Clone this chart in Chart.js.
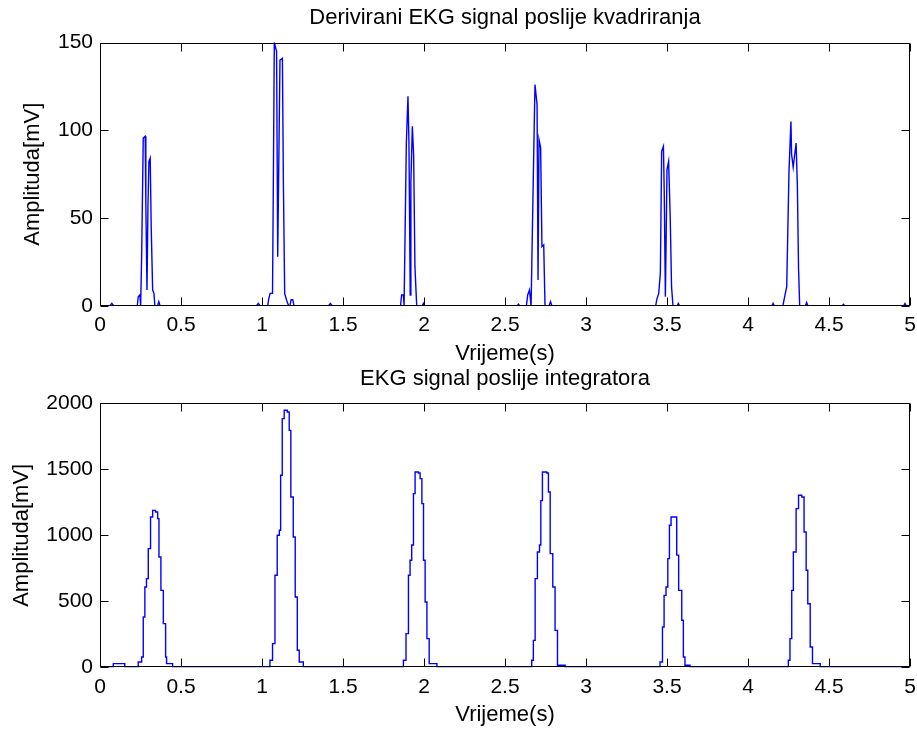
<!DOCTYPE html>
<html>
<head>
<meta charset="utf-8">
<script src="https://cdn.jsdelivr.net/npm/chart.js@4.4.1/dist/chart.umd.min.js"></script>
<style>
  html, body { margin: 0; padding: 0; background: #ffffff; }
  #wrap { position: relative; width: 917px; height: 731px; }
  canvas { position: absolute; left: 0; top: 0; }
</style>
</head>
<body>
<div id="wrap">
  <canvas id="derivChart" width="917" height="731"></canvas>
  <canvas id="integChart" width="917" height="731"></canvas>
</div>
<script>
// Squared derivative of the ECG signal: time (s) and amplitude (mV)
const derivTime = [
  0, 0.06, 0.073, 0.086,
  0.23, 0.236, 0.246, 0.251, 0.257, 0.267, 0.279, 0.283, 0.29, 0.296, 0.302, 0.31, 0.316, 0.325, 0.333, 0.339,
  0.355, 0.363, 0.371,
  0.965, 0.977, 0.99,
  1.035, 1.041, 1.05, 1.065, 1.07, 1.076, 1.09, 1.097, 1.111, 1.126, 1.132, 1.14, 1.153, 1.165,
  1.172, 1.18, 1.19, 1.198,
  1.41, 1.422, 1.434,
  1.855, 1.862, 1.873, 1.877, 1.891, 1.901, 1.907, 1.915, 1.919, 1.928, 1.936, 1.944, 1.955,
  1.988, 1.996, 2.004,
  2.575, 2.583, 2.591,
  2.632, 2.64, 2.651, 2.661, 2.675, 2.685, 2.698, 2.704, 2.71, 2.72, 2.728, 2.739, 2.747,
  2.772, 2.781, 2.79,
  3.43, 3.437, 3.449, 3.459, 3.467, 3.478, 3.483, 3.49, 3.5, 3.51, 3.52, 3.528, 3.537,
  3.562, 3.57, 3.578,
  4.147, 4.155, 4.163,
  4.215, 4.223, 4.239, 4.253, 4.265, 4.269, 4.279, 4.297, 4.305, 4.312, 4.319,
  4.354, 4.362, 4.37,
  4.58, 4.589, 4.598,
  4.96, 4.969, 4.978, 5
];
const derivAmp = [
  0, 0, 1.5, 0,
  0, 5.3, 6.3, 0.5, 28, 95.6, 96.6, 57.6, 9.1, 56.6, 82.3, 84.2, 45.2, 9.1, 7.2, 0,
  0, 2.5, 0,
  0, 1.5, 0,
  0, 3.8, 7.2, 7.2, 70, 150, 145, 28, 140, 141, 70, 7, 3, 0,
  0, 3.6, 3.6, 0,
  0, 1.5, 0,
  0, 6.3, 6.3, 0, 92.8, 119.4, 93.7, 6.3, 70, 102.3, 86.2, 22.4, 0,
  0, 1.5, 0,
  0, 1, 0,
  0, 6.3, 9.1, 0, 74.7, 126, 114.7, 14.8, 94.7, 90, 33.8, 34.8, 0,
  0, 2.5, 0,
  0, 3.8, 7.2, 18.6, 88, 90.9, 64.3, 5.3, 77.6, 82.3, 50, 11, 0,
  0, 1.5, 0,
  0, 1.5, 0,
  0, 3.8, 11, 76.6, 105, 86.5, 79, 92.8, 67.3, 21.5, 0,
  0, 2, 0,
  0, 1, 0,
  0, 1.5, 0, 0
];

// Integrator output: time (s) and amplitude (mV)
const integTime = [
  0, 0.075, 0.082, 0.143, 0.153,
  0.226, 0.236, 0.257, 0.267, 0.277, 0.287, 0.298, 0.312, 0.325, 0.343, 0.356, 0.364, 0.376, 0.391, 0.405, 0.411, 0.441, 0.448,
  1.028, 1.049, 1.065, 1.08, 1.094, 1.107, 1.115, 1.125, 1.137, 1.156, 1.168, 1.178, 1.193, 1.205, 1.218, 1.23, 1.255,
  1.852, 1.873, 1.889, 1.904, 1.914, 1.924, 1.935, 1.945, 1.966, 1.976, 1.987, 1.997, 2.007, 2.018, 2.032, 2.08,
  2.644, 2.665, 2.675, 2.686, 2.7, 2.713, 2.721, 2.731, 2.758, 2.768, 2.779, 2.795, 2.809, 2.824, 2.871,
  3.437, 3.457, 3.472, 3.482, 3.494, 3.505, 3.515, 3.525, 3.552, 3.56, 3.572, 3.591, 3.601, 3.611, 3.642,
  4.218, 4.249, 4.259, 4.27, 4.28, 4.297, 4.312, 4.332, 4.346, 4.359, 4.369, 4.384, 4.398, 4.446, 5
];
const integAmp = [
  0, 0, 28, 28, 0,
  0, 40, 78, 381, 608, 672, 899, 1139, 1189, 1177, 1126, 836, 583, 331, 78, 28, 28, 0,
  0, 53, 179, 697, 1000, 1038, 1455, 1884, 1947, 1934, 1795, 1290, 987, 533, 129, 40, 0,
  0, 53, 255, 697, 811, 926, 1316, 1480, 1472, 1429, 1240, 811, 495, 217, 28, 0,
  0, 53, 204, 672, 874, 926, 1263, 1480, 1472, 1328, 861, 608, 280, 15, 0,
  0, 40, 305, 545, 608, 823, 1076, 1139, 1139, 850, 583, 356, 78, 15, 0,
  0, 53, 217, 583, 874, 1202, 1303, 1290, 1025, 735, 482, 154, 28, 0, 0
];

// Axis ranges and tick steps
const timeRange = [0, 5];
const timeStep = 0.5;
const derivRange = [0, 150];
const derivStep = 50;
const integRange = [0, 2000];
const integStep = 500;

const titleTop = 'Derivirani EKG signal poslije kvadriranja';
const titleBottom = 'EKG signal poslije integratora';
const xLabel = 'Vrijeme(s)';
const yLabel = 'Amplituda[mV]';

const FONT = "'Liberation Sans', Arial, Helvetica, sans-serif";
const LINE_BLUE = '#0000ff';
const TICK_LEN = 8;

// Closed black box with inward tick marks on all four sides
const boxAxes = {
  id: 'boxAxes',
  afterDatasetsDraw(chart) {
    const { ctx, chartArea: a, scales: { x, y } } = chart;
    const L = Math.round(a.left) + 0.5, R = Math.round(a.right) - 0.5;
    const T = Math.round(a.top) + 0.5, B = Math.round(a.bottom) - 0.5;
    ctx.save();
    ctx.strokeStyle = '#000000';
    ctx.lineWidth = 1;
    ctx.beginPath();
    x.ticks.forEach(t => {
      const px = Math.round(x.getPixelForValue(t.value)) + 0.5;
      ctx.moveTo(px, B); ctx.lineTo(px, B - TICK_LEN);
      ctx.moveTo(px, T); ctx.lineTo(px, T + TICK_LEN);
    });
    y.ticks.forEach(t => {
      const py = Math.round(y.getPixelForValue(t.value)) + 0.5;
      ctx.moveTo(L, py); ctx.lineTo(L + TICK_LEN, py);
      ctx.moveTo(R, py); ctx.lineTo(R - TICK_LEN, py);
    });
    ctx.rect(L, T, R - L, B - T);
    ctx.stroke();
    ctx.restore();
  }
};

function toPoints(ts, vs) {
  return ts.map((t, i) => ({ x: t, y: vs[i] }));
}

function makeChart(id, cfg) {
  return new Chart(document.getElementById(id), {
    type: 'line',
    data: {
      datasets: [{
        data: toPoints(cfg.time, cfg.amp),
        borderColor: LINE_BLUE,
        borderWidth: 1.4,
        pointRadius: 0,
        fill: false,
        tension: 0,
        stepped: cfg.stepped
      }]
    },
    options: {
      responsive: false,
      animation: false,
      devicePixelRatio: 1,
      layout: { padding: cfg.padding },
      plugins: {
        legend: { display: false },
        tooltip: { enabled: false },
        title: {
          display: true,
          text: cfg.title,
          fullSize: false,
          color: '#000000',
          font: { family: FONT, size: 22, weight: 'normal', lineHeight: 1.2 },
          padding: cfg.titlePad
        }
      },
      scales: {
        x: {
          type: 'linear',
          min: timeRange[0],
          max: timeRange[1],
          afterFit(s) {
            s.height = cfg.xHeight;
            s.paddingLeft = 0;
            s.paddingRight = 0;
          },
          grid: { display: false, drawTicks: false },
          border: { display: false },
          ticks: {
            stepSize: timeStep,
            padding: 7,
            color: '#000000',
            maxRotation: 0,
            autoSkip: false,
            font: { family: FONT, size: 21, lineHeight: 1.2 },
            callback: v => String(v)
          },
          title: {
            display: true,
            text: xLabel,
            color: '#000000',
            font: { family: FONT, size: 22, lineHeight: 1.2 },
            padding: { top: 0, bottom: 2.8 }
          }
        },
        y: {
          type: 'linear',
          min: cfg.range[0],
          max: cfg.range[1],
          afterFit(s) {
            s.width = 100;
            s.paddingTop = 0;
            s.paddingBottom = 0;
          },
          grid: { display: false, drawTicks: false },
          border: { display: false },
          ticks: {
            stepSize: cfg.step,
            padding: 7,
            color: '#000000',
            font: { family: FONT, size: 21, lineHeight: 1.2 },
            callback: v => String(v)
          },
          title: {
            display: true,
            text: yLabel,
            color: '#000000',
            font: { family: FONT, size: 22, lineHeight: 1.2 },
            padding: { top: cfg.yTitlePad, bottom: 0 }
          }
        }
      }
    },
    plugins: [boxAxes]
  });
}

makeChart('derivChart', {
  time: derivTime,
  amp: derivAmp,
  range: derivRange,
  step: derivStep,
  stepped: false,
  title: titleTop,
  titlePad: { top: 4.8, bottom: 11.3 },
  padding: { left: 0, right: 7, top: 0, bottom: 361 },
  xHeight: 64,
  yTitlePad: 19.8
});

makeChart('integChart', {
  time: integTime,
  amp: integAmp,
  range: integRange,
  step: integStep,
  stepped: 'before',
  title: titleBottom,
  titlePad: { top: 0, bottom: 10.9 },
  padding: { left: 0, right: 7, top: 366, bottom: 0 },
  xHeight: 63.7,
  yTitlePad: 8.5
});
</script>
</body>
</html>
